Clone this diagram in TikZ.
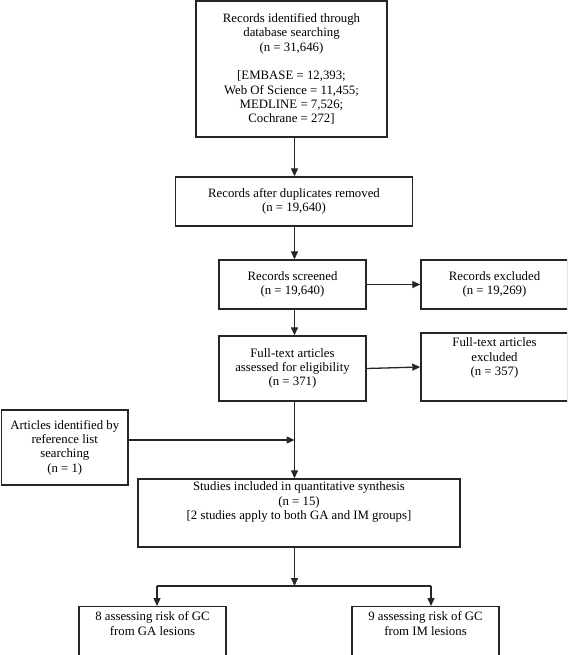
\documentclass[tikz,border=0pt]{standalone}
\usepackage{fontspec}
\setmainfont{Liberation Serif}
\usetikzlibrary{arrows.meta,calc}
\tikzset{
	flowbox/.style={draw=black!85, line width=1.4pt, align=center, inner sep=3pt, font=\fontsize{12.8}{14.3}\selectfont},
	flowarr/.style={line width=1.3pt, draw=black!85, -{Triangle[length=8pt,width=7pt]}},
	flowline/.style={line width=1.3pt, draw=black!85}
}

\begin{document}
\begin{tikzpicture}[x=1pt, y=-1pt]
			%%%%% START %%%%%
			
			\useasboundingbox (0, 0) rectangle (567, 655);
			\clip (0, 0) rectangle (567, 655);
			
			\coordinate (axis) at (294.5, 0);
			
			\node[flowbox, minimum width=191, minimum height=136] (top) at (291.5, 69) {Records identified through\\database searching\\(n = 31,646)\\[14.3pt][EMBASE = 12,393;\\Web Of Science = 11,455;\\MEDLINE = 7,526;\\Cochrane = 272]};
			
			\node[flowbox, minimum width=236.6, minimum height=49] (dup) at (294, 201.5) {Records after duplicates removed\\(n = 19,640)};
			
			\node[flowbox, minimum width=147, minimum height=49] (scr) at (292.5, 284.5) {Records screened\\(n = 19,640)};
			\node[flowbox, minimum width=147, minimum height=49] (exc) at (494.5, 284.5) {Records excluded\\(n = 19,269)};
			
			\node[flowbox, minimum width=147, minimum height=65] (ft) at (292.5, 368.5) {Full-text articles\\assessed for eligibility\\(n = 371)};
			\node[flowbox, minimum width=147, minimum height=68] (fte) at (494.5, 367) {Full-text articles\\excluded\\(n = 357)\\[6pt]};
			
			\node[flowbox, minimum width=126.5, minimum height=75] (ref) at (64.8, 447.5) {Articles identified by\\reference list\\searching\\(n = 1)};
			
			\node[flowbox, minimum width=322, minimum height=68] (stud) at (299, 513) {Studies included in quantitative synthesis\\(n = 15)\\{[2 studies apply to both GA and IM groups]}\\[10pt]};
			
			\node[flowbox, anchor=north, minimum width=147, text depth=60pt, inner sep=5pt] (ga) at (152.5, 606) {8 assessing risk of GC\\from GA lesions};
			\node[flowbox, anchor=north, minimum width=147, text depth=60pt, inner sep=5pt] (im) at (425.5, 606) {9 assessing risk of GC\\from IM lesions};
			
			\coordinate (merge) at (294.5, 440);
			\coordinate (split) at (294.5, 586);
			
			\draw[flowarr] (top.south -| axis) -- (dup.north -| axis);
			\draw[flowarr] (dup.south -| axis) -- (scr.north -| axis);
			\draw[flowarr] (scr.east) -- (exc.west);
			\draw[flowarr] (scr.south -| axis) -- (ft.north -| axis);
			\draw[flowarr] (ft.east) -- (fte.west);
			
			\draw[flowarr] (ref.east |- merge) -- (merge);
			\draw[flowarr] (ft.south -| axis) -- (stud.north -| axis);
			
			\draw[flowarr] (stud.south -| axis) -- (split);
			\draw[flowline] ([xshift=4.5]ga.north |- split) -- ([xshift=5.5]im.north |- split);
			\draw[flowarr] ([xshift=4.5]ga.north |- split) -- ([xshift=4.5]ga.north);
			\draw[flowarr] ([xshift=5.5]im.north |- split) -- ([xshift=5.5]im.north);
			
			%%%%% END %%%%%
\end{tikzpicture}
\end{document}
